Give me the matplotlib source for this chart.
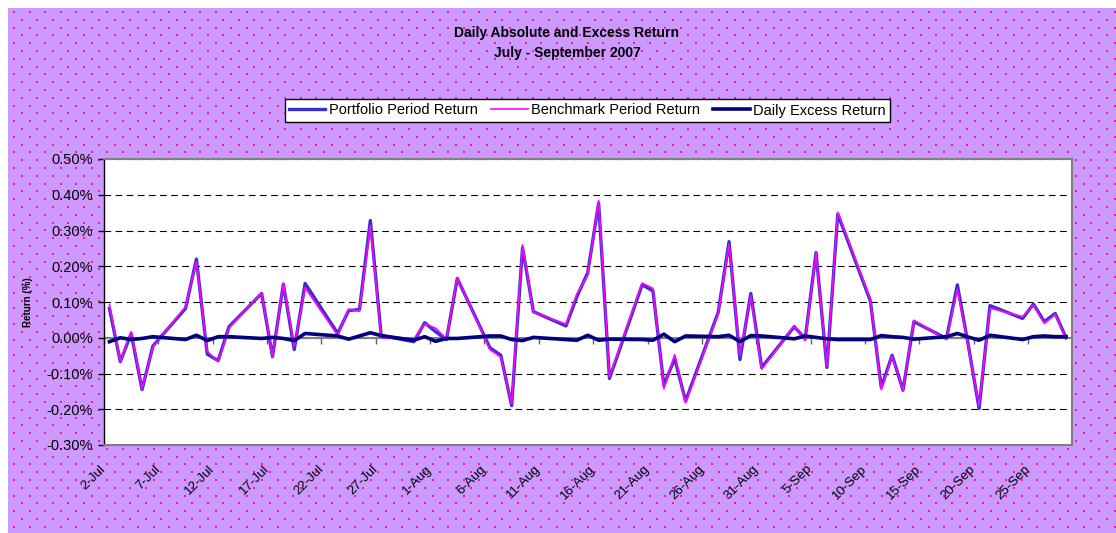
# plot.py
# daily absolute and excess return, Jul - Sep 2007
# excel style chart with lavender dotted background

import numpy as np
import pandas as pd
import matplotlib
matplotlib.use('Agg')
import matplotlib.pyplot as plt
import matplotlib.dates as mdates
from matplotlib.patches import Rectangle

WRITE_FILENAME = 'out.png'

plt.rcParams['font.family'] = ['Liberation Sans', 'DejaVu Sans']

# trading days (weekdays) 2-Jul .. 28-Sep 2007
DATES = pd.bdate_range('2007-07-02', '2007-09-28')

# returns in %
PORTFOLIO = [
	0.082, -0.067, 0.012, -0.145, -0.023,
	0.082, 0.220, -0.046, -0.064, 0.031,
	0.124, -0.053, 0.150, -0.033, 0.152,
	0.012, 0.076, 0.079, 0.328, 0.006,
	-0.011, 0.042, 0.017, -0.005, 0.166,
	-0.028, -0.049, -0.190, 0.252, 0.073,
	0.033, 0.115, 0.182, 0.377, -0.114,
	0.148, 0.131, -0.133, -0.058, -0.177,
	0.071, 0.269, -0.061, 0.124, -0.083,
	0.031, -0.003, 0.238, -0.083, 0.346,
	0.103, -0.139, -0.049, -0.147, 0.045,
	-0.002, 0.148, -0.020, -0.198, 0.090,
	0.054, 0.094, 0.045, 0.068, 0.000,
]

BENCHMARK = [
	0.093, -0.067, 0.017, -0.143, -0.026,
	0.087, 0.213, -0.038, -0.067, 0.028,
	0.126, -0.054, 0.152, -0.025, 0.140,
	0.007, 0.080, 0.074, 0.314, 0.000,
	-0.004, 0.039, 0.027, -0.003, 0.168,
	-0.033, -0.054, -0.185, 0.260, 0.072,
	0.038, 0.122, 0.175, 0.384, -0.110,
	0.153, 0.138, -0.143, -0.047, -0.182,
	0.068, 0.262, -0.050, 0.118, -0.088,
	0.034, -0.008, 0.237, -0.080, 0.351,
	0.108, -0.145, -0.052, -0.148, 0.049,
	-0.005, 0.136, -0.022, -0.191, 0.083,
	0.059, 0.091, 0.040, 0.065, -0.003,
]

EXCESS = [
	-0.011, 0.000, -0.005, -0.002, 0.003,
	-0.005, 0.007, -0.008, 0.003, 0.003,
	-0.002, 0.001, -0.002, -0.008, 0.012,
	0.005, -0.004, 0.005, 0.014, 0.006,
	-0.007, 0.003, -0.010, -0.002, -0.002,
	0.005, 0.005, -0.005, -0.008, 0.001,
	-0.005, -0.007, 0.007, -0.007, -0.004,
	-0.005, -0.007, 0.010, -0.011, 0.005,
	0.003, 0.007, -0.011, 0.006, 0.005,
	-0.003, 0.005, 0.001, -0.003, -0.005,
	-0.005, 0.006, 0.003, 0.001, -0.004,
	0.003, 0.012, 0.002, -0.007, 0.007,
	-0.005, 0.003, 0.005, 0.003, 0.003,
]

TICK_DATES = pd.date_range('2007-07-02', '2007-09-25', freq='5D')
YTICKS = [-0.3, -0.2, -0.1, 0.0, 0.1, 0.2, 0.3, 0.4, 0.5]

LAVENDER = '#CC99FF'
DOT = '#FF1493'
W, H = 1116, 533


def main():
	fig = plt.figure(figsize=(W / 100, H / 100), dpi=100, facecolor='white')
	draw_background(fig)
	ax = fig.add_axes([104 / W, 1 - 445 / H, 967.5 / W, 286 / H])
	plot_lines(ax)
	style_axes(ax)
	add_titles(fig, ax)
	fig.savefig(WRITE_FILENAME, dpi=100, facecolor='white')
	plt.close()


def draw_background(fig):
	# lavender area with staggered pink dots (pixel coords)
	bg = fig.add_axes([0, 0, 1, 1], zorder=-5)
	bg.set_xlim(0, W)
	bg.set_ylim(H, 0)
	bg.axis('off')
	bg.add_patch(Rectangle((8, 8), W - 8, H - 8, facecolor=LAVENDER, edgecolor='none'))
	xs, ys = [], []
	for k, yy in enumerate(np.arange(12, H, 7.8)):
		off = 0 if k % 2 == 0 else 7.75
		row = np.arange(14 + off, W, 15.5)
		xs.extend(row)
		ys.extend([yy] * len(row))
	bg.scatter(xs, ys, s=2.0, color=DOT, linewidths=0, marker='s')


def plot_lines(ax):
	x = mdates.date2num(DATES)
	ax.plot(x, PORTFOLIO, color='#3333CC', lw=2.4, label='Portfolio Period Return', zorder=3)
	ax.plot(x, BENCHMARK, color='#FF00FF', lw=1.2, label='Benchmark Period Return', zorder=4)
	ax.plot(x, EXCESS, color='#000080', lw=2.6, label='Daily Excess Return', zorder=5)


def style_axes(ax):
	x0 = mdates.date2num(DATES[0]) - 0.5
	x1 = mdates.date2num(DATES[-1]) + 0.5
	ax.set_xlim(x0, x1)
	ax.set_ylim(-0.3, 0.5)
	ax.set_facecolor('white')

	# y axis
	ax.set_yticks(YTICKS)
	ax.set_yticklabels(['%.2f%%' % v for v in YTICKS], fontsize=10.5)
	ax.tick_params(axis='y', direction='out', length=4, width=1, pad=4, color='black')
	ax.yaxis.grid(True, linestyle=(0, (6, 4)), color='black', lw=0.8)
	ax.set_axisbelow(True)

	# x labels at bottom, tick marks on the zero line
	pos = mdates.date2num(TICK_DATES) - 0.5
	labels = ['%d-%s' % (d.day, d.strftime('%b')) for d in TICK_DATES]
	ax.set_xticks(pos)
	ax.set_xticklabels(labels, fontsize=9.5, rotation=45, ha='right', va='center',
		rotation_mode='anchor')
	ax.tick_params(axis='x', length=0, pad=16)

	ax.axhline(0, color='#808080', lw=1.5, zorder=2)
	# zero sits 3/8 of the way up (-0.3 .. 0.5)
	sec = ax.secondary_xaxis(3 / 8)
	sec.xaxis.set_ticks_position('bottom')
	sec.set_xticks(pos)
	sec.set_xticklabels([])
	sec.tick_params(axis='x', direction='out', length=4, width=1, color='#606060',
		labelbottom=False, labeltop=False)
	for s in sec.spines.values():
		s.set_visible(False)

	for s in ['top', 'right', 'bottom']:
		ax.spines[s].set_color('#808080')
		ax.spines[s].set_linewidth(1.5)
	ax.spines['left'].set_color('black')
	ax.spines['left'].set_linewidth(1)

	ax.set_ylabel('Return (%)', fontsize=7, fontweight='bold')
	ax.yaxis.set_label_coords((33 - 104) / 967.5, 0.5)


def add_titles(fig, ax):
	fig.text(567 / W, 1 - 33 / H, 'Daily Absolute and Excess Return', ha='center', va='center',
		fontsize=10, fontweight='bold')
	fig.text(567 / W, 1 - 53 / H, 'July - September 2007', ha='center', va='center',
		fontsize=10, fontweight='bold')
	handles, labels = ax.get_legend_handles_labels()
	legend = fig.legend(handles, labels, loc='center', bbox_to_anchor=(587.5 / W, 1 - 110.5 / H),
		ncol=3, fontsize=10.5, frameon=True, fancybox=False, shadow=False, framealpha=1,
		handlelength=2.5, handletextpad=0.25, columnspacing=0.9, borderpad=0.3)
	legend.get_frame().set_facecolor('white')
	legend.get_frame().set_edgecolor('black')
	legend.get_frame().set_linewidth(1)


if __name__ == '__main__':
	main()
